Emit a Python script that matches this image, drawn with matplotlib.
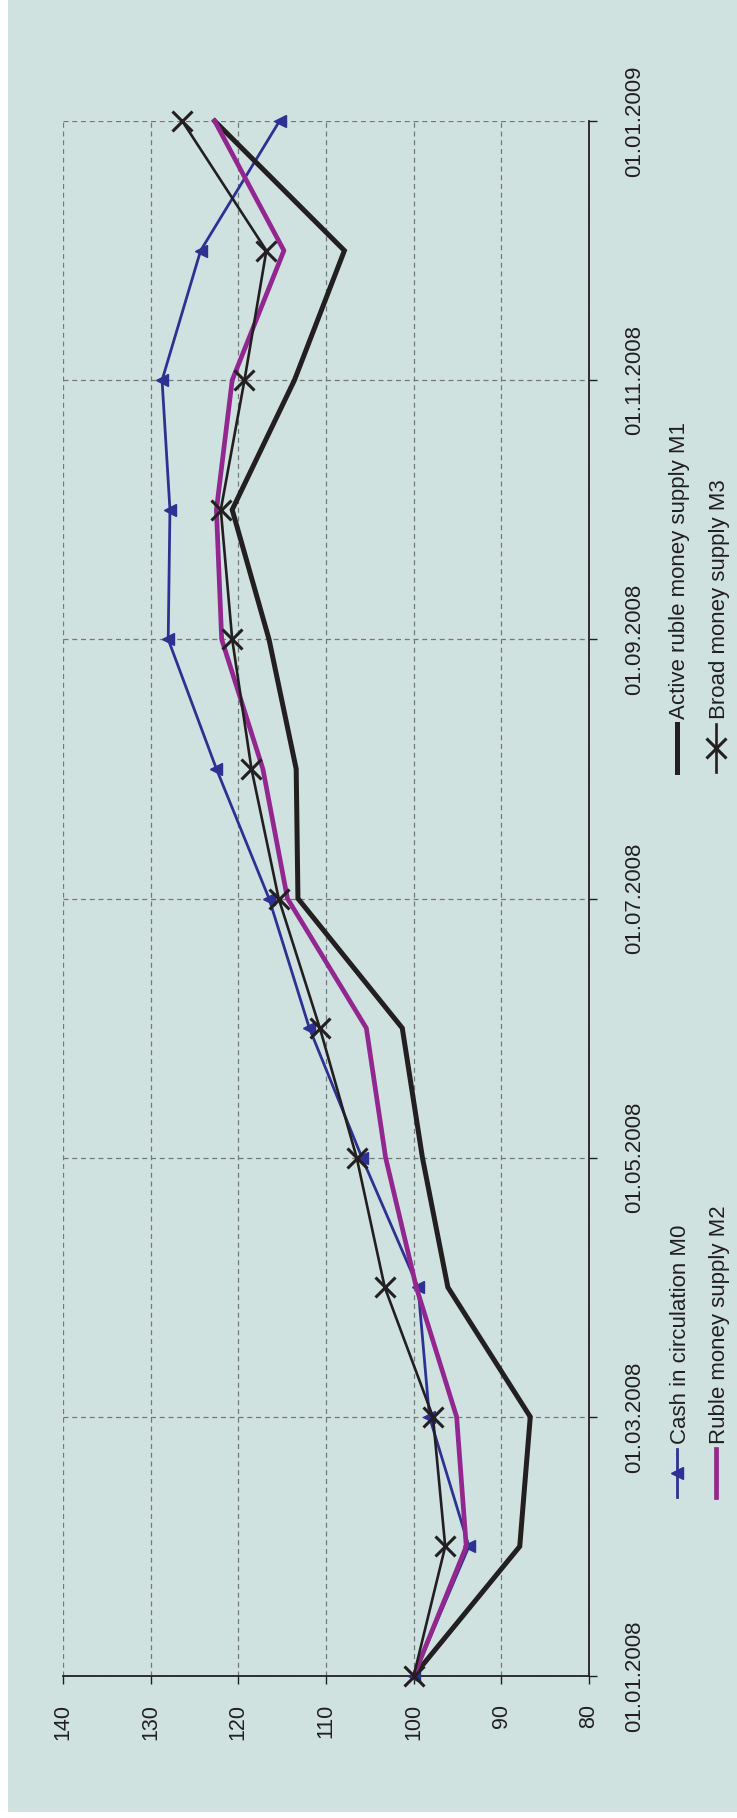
import numpy as np
import matplotlib

matplotlib.use("Agg")
import matplotlib.pyplot as plt
from matplotlib.lines import Line2D
from matplotlib.patches import Rectangle

plt.rcParams["font.family"] = ["Liberation Sans", "DejaVu Sans"]

# monthly index values, 01.01.2008 = 100
months = np.arange(13)
date_labels = ["01.01.2008", "01.03.2008", "01.05.2008", "01.07.2008",
               "01.09.2008", "01.11.2008", "01.01.2009"]
m0 = [100, 93.7, 98.2, 99.5, 105.9, 111.9, 116.5, 122.5, 128.0, 127.8, 128.7, 124.3, 115.3]
m1 = [100, 87.9, 86.7, 96.1, 99.0, 101.3, 113.2, 113.4, 116.5, 120.7, 113.6, 107.9, 122.7]
m2 = [100, 94.0, 95.1, 99.7, 103.2, 105.4, 114.4, 117.2, 121.9, 122.5, 120.7, 114.8, 122.7]
m3 = [100, 96.4, 97.8, 103.3, 106.5, 110.7, 115.4, 118.5, 120.7, 122.0, 119.3, 116.8, 126.4]
value_ticks = [140, 130, 120, 110, 100, 90, 80]

W, H = 737, 1818
BG = "#cfe2e0"
BLUE = "#2e3192"
PURPLE = "#92278f"
INK = "#231f20"
FS = 16


def fx(x):
    return x / W


def fy(y):
    return 1 - y / H


fig = plt.figure(figsize=(W / 100, H / 100), dpi=100)
fig.add_artist(Rectangle((fx(8), fy(1812)), 1 - fx(8), 1 - fy(1812),
                         transform=fig.transFigure, facecolor=BG, edgecolor="none", zorder=0))

# chart is laid out sideways: values run across, months run up the page
ax = fig.add_axes([fx(63), fy(1676), fx(589) - fx(63), fy(121) - fy(1676)])
ax.set_facecolor("none")

ax.plot(m0, months, color=BLUE, lw=2.0, marker="<", ms=9, mec=BLUE, mfc=BLUE,
        clip_on=False, zorder=3)
ax.plot(m1, months, color=INK, lw=3.6, solid_joinstyle="miter", clip_on=False, zorder=4)
ax.plot(m2, months, color=PURPLE, lw=3.4, clip_on=False, zorder=5)
ax.plot(m3, months, color=INK, lw=1.9, marker="x", ms=14, mew=2.2, clip_on=False, zorder=6)

ax.set_xlim(140, 80)
ax.set_ylim(0, 12)
ax.set_xticks(value_ticks)
ax.set_xticklabels([str(v) for v in value_ticks], rotation=90, fontsize=FS - 0.5, color=INK)
ax.set_yticks(months[::2])
ax.set_yticklabels(date_labels, rotation=90, fontsize=FS, color=INK, va="center")
ax.yaxis.tick_right()
ax.tick_params(axis="x", direction="out", length=6, width=1.0, pad=14, color=INK)
ax.tick_params(axis="y", direction="out", length=6, width=1.0, pad=19, color=INK)

ax.grid(True, linestyle=(0, (4, 3)), color="#777777", linewidth=0.9)
ax.set_axisbelow(True)
for side in ("left", "top"):
    ax.spines[side].set_visible(False)
for side in ("bottom", "right"):
    ax.spines[side].set_color(INK)
    ax.spines[side].set_linewidth(1.3)
    ax.spines[side].set_zorder(2.5)

# legend, two columns of rotated entries
entries = [
    (677, 1473, "Cash in circulation M0", dict(color=BLUE, lw=2.0, marker="<", ms=9, mfc=BLUE, mec=BLUE)),
    (716, 1473, "Ruble money supply M2", dict(color=PURPLE, lw=3.4)),
    (677, 748, "Active ruble money supply M1", dict(color=INK, lw=3.6)),
    (716, 748, "Broad money supply M3", dict(color=INK, lw=1.9, marker="x", ms=14, mew=2.2)),
]
for x, yc, label, style in entries:
    line = Line2D([fx(x), fx(x)], [fy(yc + 24), fy(yc - 24)], transform=fig.transFigure,
                  markevery=[], **style)
    fig.add_artist(line)
    if "marker" in style:
        fig.add_artist(Line2D([fx(x)], [fy(yc)], transform=fig.transFigure,
                              linestyle="none", **{k: v for k, v in style.items() if k not in ("lw",)}))
    fig.text(fx(x + 3), fy(yc - 29), label, rotation=90, ha="center", va="bottom",
             fontsize=FS, color=INK)

fig.savefig("out.png", dpi=100)
